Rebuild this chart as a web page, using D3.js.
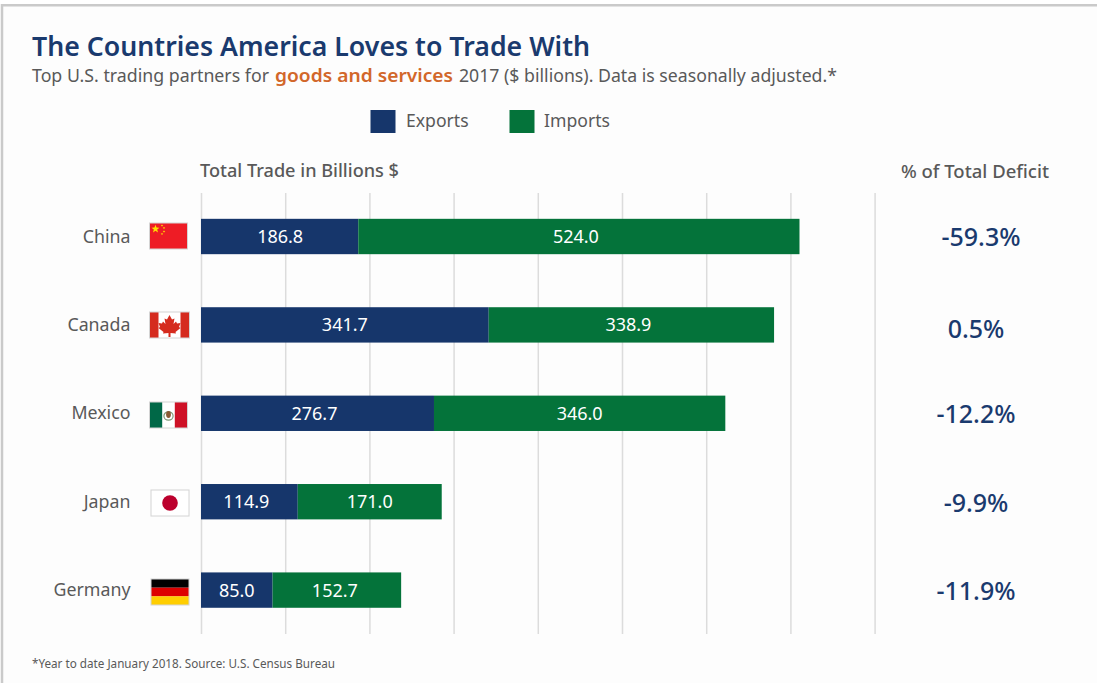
<!DOCTYPE html>
<html>
<head>
<meta charset="utf-8">
<script src="https://cdn.jsdelivr.net/npm/d3@7"></script>
<style>
html,body{margin:0;padding:0;background:#fff;overflow:hidden}
svg{display:block}
text{font-family:"Noto Sans","Open Sans",sans-serif}
</style>
</head>
<body>
<svg id="chart" width="1097" height="683"></svg>
<script>
const countries = ["China", "Canada", "Mexico", "Japan", "Germany"];
const exportsBn = [186.8, 341.7, 276.7, 114.9, 85.0];
const importsBn = [524.0, 338.9, 346.0, 171.0, 152.7];
const deficitLabels = ["-59.3%", "0.5%", "-12.2%", "-9.9%", "-11.9%"];
const gridTicks = [0, 100, 200, 300, 400, 500, 600, 700, 800];

const NAVY = "#16366b", GREEN = "#04733a", GREY = "#595959", GRID = "#dcdcdc";

const svg = d3.select("#chart");

// Card background and its frame
svg.append("rect").attr("width", 1097).attr("height", 683).attr("fill", "#fff");
svg.append("rect").attr("x", 2).attr("y", 5.25).attr("width", 1100).attr("height", 690)
  .attr("fill", "#fdfdfd").attr("stroke", "#cacaca").attr("stroke-width", 2.5);

const x = d3.scaleLinear().domain([0, 800]).range([201, 874.6]);
const y = d3.scaleBand().domain(countries).range([192.3, 634.3]).paddingInner(0.6).paddingOuter(0.3);

// Heading
svg.append("text").attr("x", 32).attr("y", 56).attr("font-size", 26.5).attr("font-weight", 600)
  .attr("fill", "#1a3a6e").attr("textLength", 558).attr("lengthAdjust", "spacingAndGlyphs")
  .text("The Countries America Loves to Trade With");

// Subtitle, split into three runs so the highlighted phrase sits at its own offset
[
  ["Top U.S. trading partners for", 32, 237, GREY, 400],
  ["goods and services", 275, 178, "#d2672a", 600],
  ["2017 ($ billions). Data is seasonally adjusted.*", 459, 378, GREY, 400]
].forEach(([t, tx, len, fill, weight]) => {
  svg.append("text").attr("x", tx).attr("y", 82).attr("font-size", 18).attr("fill", fill)
    .attr("font-weight", weight).attr("textLength", len).attr("lengthAdjust", "spacingAndGlyphs").text(t);
});

// Legend
const legend = [["Exports", NAVY, 370.5, 406], ["Imports", GREEN, 509.5, 544]];
legend.forEach(([label, color, sx, tx]) => {
  svg.append("rect").attr("x", sx).attr("y", 110).attr("width", 25).attr("height", 23).attr("fill", color);
  svg.append("text").attr("x", tx).attr("y", 127).attr("font-size", 17.6).attr("fill", GREY).text(label);
});

// Column headings
svg.append("text").attr("x", 200).attr("y", 177).attr("font-size", 17.5).attr("font-weight", 500)
  .attr("fill", GREY).attr("textLength", 199).attr("lengthAdjust", "spacingAndGlyphs").text("Total Trade in Billions $");
svg.append("text").attr("x", 901).attr("y", 178).attr("font-size", 17.5).attr("font-weight", 500)
  .attr("fill", GREY).attr("textLength", 148).attr("lengthAdjust", "spacingAndGlyphs").text("% of Total Deficit");

// Vertical gridlines come from a D3 axis with the tick labels suppressed
const grid = svg.append("g").attr("transform", "translate(0,193)")
  .call(d3.axisBottom(x).tickValues(gridTicks).tickSize(441).tickFormat(""));
grid.select(".domain").remove();
grid.selectAll("line").attr("stroke", GRID).attr("stroke-width", 1.5);

// Hand-placed shifts for labels that do not sit exactly mid-segment
const exportNudge = { China: 0.5, Canada: 0, Mexico: -3, Japan: -3, Germany: 0 };
const importNudge = { China: -3, Canada: -3, Mexico: 0, Japan: 0, Germany: -2 };
const deficitShift = { China: [5, 0], Canada: [0, 3.5], Mexico: [0, 0.5], Japan: [0, 0.5], Germany: [0, 0] };

// Stacked bars
const rows = countries.map((c, i) => ({ c, exp: exportsBn[i], imp: importsBn[i], def: deficitLabels[i] }));
const row = svg.selectAll("g.row").data(rows).join("g").attr("class", "row");

row.append("rect").attr("x", x(0)).attr("y", d => y(d.c)).attr("height", y.bandwidth())
  .attr("width", d => x(d.exp) - x(0)).attr("fill", NAVY);
row.append("rect").attr("x", d => x(d.exp)).attr("y", d => y(d.c)).attr("height", y.bandwidth())
  .attr("width", d => x(d.exp + d.imp) - x(d.exp)).attr("fill", GREEN);

row.append("text").attr("x", d => x(d.exp / 2) + exportNudge[d.c]).attr("y", d => y(d.c) + y.bandwidth() / 2 + 6.5)
  .attr("text-anchor", "middle").attr("font-size", 18).attr("fill", "#fff").text(d => d.exp.toFixed(1));
row.append("text").attr("x", d => x(d.exp + d.imp / 2) + importNudge[d.c]).attr("y", d => y(d.c) + y.bandwidth() / 2 + 6.5)
  .attr("text-anchor", "middle").attr("font-size", 18).attr("fill", "#fff").text(d => d.imp.toFixed(1));

// Country names
row.append("text").attr("x", 130.5).attr("y", d => y(d.c) + y.bandwidth() / 2 + 6)
  .attr("text-anchor", "end").attr("font-size", 17.8).attr("fill", GREY).text(d => d.c);

// Deficit share column
row.append("text").attr("x", d => 976 + deficitShift[d.c][0]).attr("y", d => y(d.c) + y.bandwidth() / 2 + 9.5 + deficitShift[d.c][1])
  .attr("text-anchor", "middle").attr("font-size", 25).attr("font-weight", 500).attr("fill", "#1a3a6e").text(d => d.def);

// Flags, each drawn in a local 38x26 box
const flagOffsets = { China: [149.5, 223], Canada: [149.5, 312], Mexico: [149.5, 402], Japan: [151, 490], Germany: [151, 579] };

function star(g, cx, cy, r, fill) {
  const pts = d3.range(10).map(k => {
    const a = -Math.PI / 2 + k * Math.PI / 5, rr = k % 2 ? r * 0.42 : r;
    return [cx + rr * Math.cos(a), cy + rr * Math.sin(a)];
  });
  g.append("polygon").attr("points", pts.map(p => p.join(",")).join(" ")).attr("fill", fill);
}

const painters = {
  China(g) {
    g.append("rect").attr("width", 38).attr("height", 26).attr("fill", "#ee1c25");
    star(g, 6, 6, 4.2, "#ffe000");
    [[12.5, 2.5], [14.5, 5], [14.5, 8.5], [12.5, 11]].forEach(p => star(g, p[0], p[1], 1.3, "#ffe000"));
  },
  Canada(g) {
    g.append("rect").attr("width", 40).attr("height", 26).attr("fill", "#fff");
    g.append("rect").attr("width", 9).attr("height", 26).attr("fill", "#d52b1e");
    g.append("rect").attr("x", 31).attr("width", 9).attr("height", 26).attr("fill", "#d52b1e");
    const leaf = "M20 3 L22.5 7.5 L25 6.5 L24 12 L26.5 9.5 L27.5 11.5 L31 11 L29.5 15 L31 16 L26 20 L26.5 21.5 L21 21 L21 25 L19 25 L19 21 L13.5 21.5 L14 20 L9 16 L10.5 15 L9 11 L12.5 11.5 L13.5 9.5 L16 12 L15 6.5 L17.5 7.5 Z";
    g.append("path").attr("d", leaf).attr("fill", "#d52b1e");
  },
  Mexico(g) {
    g.append("rect").attr("width", 38).attr("height", 26).attr("fill", "#fff");
    g.append("rect").attr("width", 12.7).attr("height", 26).attr("fill", "#006847");
    g.append("rect").attr("x", 25.3).attr("width", 12.7).attr("height", 26).attr("fill", "#ce1126");
    g.append("ellipse").attr("cx", 19).attr("cy", 14).attr("rx", 4.6).attr("ry", 4.2).attr("fill", "none").attr("stroke", "#7d9a78").attr("stroke-width", 1.2);
    g.append("ellipse").attr("cx", 19).attr("cy", 12.5).attr("rx", 2.4).attr("ry", 3.4).attr("fill", "#8a5a34");
  },
  Japan(g) {
    g.append("rect").attr("width", 38).attr("height", 26).attr("fill", "#fff");
    g.append("circle").attr("cx", 19).attr("cy", 13).attr("r", 7.8).attr("fill", "#bc002d");
  },
  Germany(g) {
    g.append("rect").attr("width", 38).attr("height", 8.7).attr("fill", "#000");
    g.append("rect").attr("y", 8.7).attr("width", 38).attr("height", 8.7).attr("fill", "#dd0000");
    g.append("rect").attr("y", 17.3).attr("width", 38).attr("height", 8.7).attr("fill", "#ffce00");
  }
};

countries.forEach(c => {
  const [fx, fy] = flagOffsets[c];
  const g = svg.append("g").attr("transform", `translate(${fx},${fy})`);
  painters[c](g);
  const w = c === "Canada" ? 40 : 38;
  g.append("rect").attr("width", w).attr("height", 26).attr("fill", "none").attr("stroke", "#d4d4d4").attr("stroke-width", 1);
});

// Source note
svg.append("text").attr("x", 32).attr("y", 668).attr("font-size", 12).attr("fill", GREY)
  .attr("textLength", 303).attr("lengthAdjust", "spacingAndGlyphs")
  .text("*Year to date January 2018. Source: U.S. Census Bureau");
</script>
</body>
</html>
